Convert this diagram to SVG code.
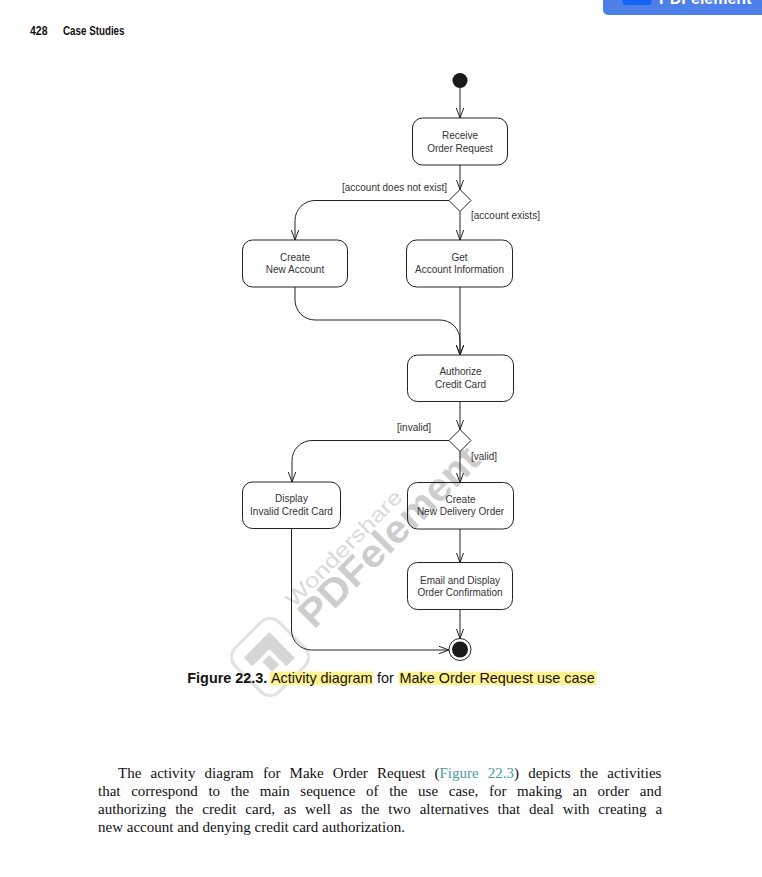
<svg xmlns="http://www.w3.org/2000/svg" width="762" height="877" viewBox="0 0 762 877">
<style>
.box{fill:none;stroke:#222;stroke-width:1}
.lbl{font-family:"Liberation Sans",Arial,sans-serif;font-size:10px;fill:#333}
.c{text-anchor:middle}
.ln{fill:none;stroke:#222;stroke-width:1;marker-end:url(#arr)}
.para{font-family:"Liberation Serif","Times New Roman",serif;font-size:15px;fill:#111}
.cap{font-family:"Liberation Sans",Arial,sans-serif;font-size:14.4px;fill:#111}
</style>
<defs>
<marker id="arr" markerWidth="11" markerHeight="10" refX="10" refY="5" orient="auto" markerUnits="userSpaceOnUse">
<path d="M0,1.3 L10,5 L0,8.7" fill="none" stroke="#222" stroke-width="1"/>
</marker>
</defs>
<rect width="762" height="877" fill="#fff"/>

<g id="watermark" font-family="Liberation Sans,Arial,sans-serif">
<text transform="translate(294,608) rotate(-45)" font-size="21" fill="#dadada" textLength="155" lengthAdjust="spacingAndGlyphs">Wondershare</text>
<text transform="translate(314,630) rotate(-45)" font-size="39" font-weight="bold" fill="#cdcdcd" textLength="238" lengthAdjust="spacingAndGlyphs">PDFelement</text>
<g transform="rotate(45 270 657)">
<rect x="239" y="626" width="62" height="62" rx="13" fill="none" stroke="#e2e2e2" stroke-width="3"/>
<g fill="#d6d6d6">
<rect x="252" y="640" width="12" height="36"/>
<rect x="252" y="640" width="36" height="12"/>
<rect x="268" y="656" width="14" height="10"/>
</g>
</g>
</g>

<g id="banner">
<rect x="603" y="-10" width="170" height="25" rx="5" fill="#4d80e8"/>
<rect x="622.5" y="-10" width="29" height="15" rx="3" fill="#1463f3"/>
<text x="659" y="4" font-family="Liberation Sans,Arial,sans-serif" font-weight="bold" font-size="16" fill="#fff">PDFelement</text>
</g>

<g id="header" font-family="Liberation Sans,Arial,sans-serif" font-weight="bold" font-size="12.5" fill="#111">
<text x="30" y="35" textLength="17.5" lengthAdjust="spacingAndGlyphs">428</text>
<text x="63" y="35" textLength="61.5" lengthAdjust="spacingAndGlyphs">Case Studies</text>
</g>

<g id="connectors">
<path class="ln" d="M460,88 V118"/>
<path class="ln" d="M460,165 V189.5"/>
<path class="ln" d="M449,200.5 H315 A20,20 0 0 0 295,220.5 V240"/>
<path class="ln" d="M460,211.5 V240"/>
<path class="ln" d="M295,287 V300 A20,20 0 0 0 315,320 H440 A20,20 0 0 1 460,340 V355"/>
<path class="ln" d="M460,287 V355"/>
<path class="ln" d="M460,401.5 V429.5"/>
<path class="ln" d="M449,440.5 H312 A20,20 0 0 0 292,460.5 V482"/>
<path class="ln" d="M460,451.5 V482.5"/>
<path class="ln" d="M291.5,528.5 V630 A20,20 0 0 0 311.5,650 H449"/>
<path class="ln" d="M460,529 V562.5"/>
<path class="ln" d="M460,609.5 V638.5"/>
<text class="lbl" x="447" y="191" text-anchor="end">[account does not exist]</text>
<text class="lbl" x="471" y="218.5">[account exists]</text>
<text class="lbl" x="431" y="431" text-anchor="end">[invalid]</text>
<text class="lbl" x="471" y="460">[valid]</text>
</g>

<g id="start"><circle cx="460" cy="80.5" r="7.5" fill="#1a1a1a"/></g>

<g id="receive">
<rect class="box" x="412.5" y="118" width="95" height="47" rx="10"/>
<text class="lbl c" x="460" y="139">Receive</text>
<text class="lbl c" x="460" y="151.5">Order Request</text>
</g>

<g id="decision1"><polygon class="box" points="460,189.5 471,200.5 460,211.5 449,200.5" style="fill:#fff"/></g>

<g id="createAccount">
<rect class="box" x="242.5" y="240" width="105" height="47" rx="10"/>
<text class="lbl c" x="295" y="260.5">Create</text>
<text class="lbl c" x="295" y="273">New Account</text>
</g>

<g id="getAccount">
<rect class="box" x="406.5" y="240" width="106" height="47" rx="10"/>
<text class="lbl c" x="459.5" y="260.5">Get</text>
<text class="lbl c" x="459.5" y="273">Account Information</text>
</g>

<g id="authorize">
<rect class="box" x="407.5" y="355" width="106" height="46.5" rx="10"/>
<text class="lbl c" x="460.5" y="375">Authorize</text>
<text class="lbl c" x="460.5" y="387.5">Credit Card</text>
</g>

<g id="decision2"><polygon class="box" points="460,429.5 471,440.5 460,451.5 449,440.5" style="fill:#fff"/></g>

<g id="displayInvalid">
<rect class="box" x="242.5" y="482" width="98" height="46.5" rx="10"/>
<text class="lbl c" x="291.5" y="502">Display</text>
<text class="lbl c" x="291.5" y="514.5">Invalid Credit Card</text>
</g>

<g id="createDelivery">
<rect class="box" x="407.5" y="482.5" width="106" height="46.5" rx="10"/>
<text class="lbl c" x="460.5" y="502.5">Create</text>
<text class="lbl c" x="460.5" y="515">New Delivery Order</text>
</g>

<g id="emailConfirm">
<rect class="box" x="407.5" y="562.5" width="105" height="47" rx="10"/>
<text class="lbl c" x="460" y="584">Email and Display</text>
<text class="lbl c" x="460" y="596">Order Confirmation</text>
</g>

<g id="end">
<circle cx="460" cy="649.5" r="11" fill="#fff" stroke="#222" stroke-width="1"/>
<circle cx="460" cy="649.5" r="8" fill="#1a1a1a"/>
</g>

<g id="caption">
<rect x="270" y="671.5" width="103" height="13.5" fill="#fdf38e"/>
<rect x="398.5" y="671.5" width="198" height="13.5" fill="#fdf38e"/>
<text class="cap" y="683"><tspan x="187.3" font-weight="bold">Figure 22.3.</tspan><tspan x="271">Activity diagram</tspan><tspan x="377">for</tspan><tspan x="399.5">Make Order Request use case</tspan></text>
</g>

<g id="paragraph" class="para">
<text x="118" y="778" word-spacing="5.4">The activity diagram for Make Order Request (<tspan fill="#4a9a9e">Figure 22.3</tspan>) depicts the activities</text>
<text x="98" y="796" word-spacing="6.9">that correspond to the main sequence of the use case, for making an order and</text>
<text x="98" y="814" word-spacing="5.1">authorizing the credit card, as well as the two alternatives that deal with creating a</text>
<text x="98" y="832">new account and denying credit card authorization.</text>
</g>
</svg>
